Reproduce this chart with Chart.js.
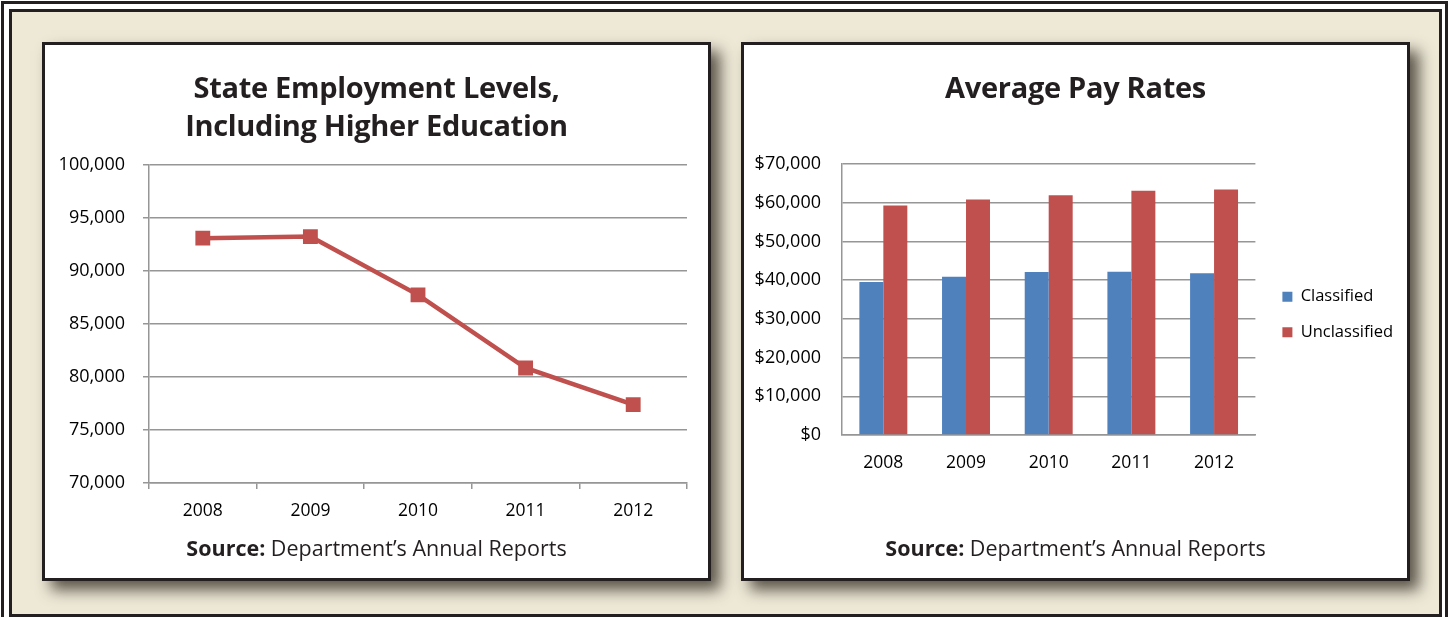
<!DOCTYPE html>
<html>
<head>
<meta charset="utf-8">
<script src="https://cdn.jsdelivr.net/npm/chart.js@4.4.1/dist/chart.umd.min.js"></script>
<style>
  html, body { margin:0; padding:0; }
  body { width:1449px; height:617px; overflow:hidden; background:#ffffff; position:relative; font-family:"Open Sans", sans-serif; }
  #outer { position:absolute; left:1px; top:1px; width:1447px; height:630px; box-sizing:border-box; border:3px solid #231f20; }
  #inner { position:absolute; left:9px; top:9px; width:1433px; height:608px; box-sizing:border-box; border:3px solid #231f20; background:#eee9d7; }
  .panel { position:absolute; top:42px; width:669px; height:539px; box-sizing:border-box; border:3px solid #231f20; background:#ffffff; box-shadow: 9px 9px 14px rgba(40,35,25,0.75); }
  .panel canvas { position:absolute; left:0; top:0; }
  .title { position:absolute; left:0; width:100%; text-align:center; font-weight:700; color:#231f20; font-size:29px; line-height:38px; letter-spacing:-0.3px; }
  .source { position:absolute; left:0; width:100%; text-align:center; color:#231f20; font-size:21.5px; line-height:26px; }
  .source b { font-weight:700; }
</style>
</head>
<body>
<div id="outer"></div>
<div id="inner"></div>
<div class="panel" id="p1" style="left:42px;">
  <canvas id="c1" width="663" height="533"></canvas>
  <div class="title" style="top:23px;">State Employment Levels,<br>Including Higher Education</div>
  <div class="source" style="top:490px;"><b>Source:</b> Department’s Annual Reports</div>
</div>
<div class="panel" id="p2" style="left:741px;">
  <canvas id="c2" width="663" height="533"></canvas>
  <div class="title" style="top:23px;">Average Pay Rates</div>
  <div class="source" style="top:490px;"><b>Source:</b> Department’s Annual Reports</div>
</div>
<script>
// ---- data ----
const years = ['2008', '2009', '2010', '2011', '2012'];
const employmentLevels = [93100, 93250, 87750, 80850, 77400];
const employmentTicks = [70000, 75000, 80000, 85000, 90000, 95000, 100000];
const classifiedPay = [39500, 40900, 42100, 42200, 41800];
const unclassifiedPay = [59300, 60800, 61900, 63100, 63400];
const payTicks = [0, 10000, 20000, 30000, 40000, 50000, 60000, 70000];

// ---- styles ----
const RED = '#c0504d';
const BLUE = '#4f81bd';
const GRID = '#969696';
const FONT = 'Open Sans';

// Left: line chart
new Chart(document.getElementById('c1'), {
  type: 'line',
  data: {
    labels: years,
    datasets: [{
      label: 'State Employment',
      data: employmentLevels,
      borderColor: RED,
      backgroundColor: RED,
      borderWidth: 4.5,
      pointStyle: 'rect',
      pointRadius: 10.5,
      pointBorderWidth: 0,
      pointBackgroundColor: RED,
      tension: 0
    }]
  },
  options: {
    responsive: false,
    animation: false,
    layout: { padding: { left: 0, right: 21, top: 120, bottom: 55 } },
    plugins: { legend: { display: false }, tooltip: { enabled: false } },
    scales: {
      x: {
        offset: true,
        grid: { offset: true, drawOnChartArea: false, drawTicks: true, tickLength: 6, color: GRID, lineWidth: 1.5 },
        border: { color: GRID, width: 1.5 },
        ticks: { color: '#000', font: { family: FONT, size: 17.5 }, padding: 12 },
        afterFit(s) { s.height = 40; }
      },
      y: {
        min: employmentTicks[0],
        max: employmentTicks[employmentTicks.length - 1],
        afterBuildTicks(s) { s.ticks = employmentTicks.map(v => ({ value: v })); },
        ticks: { color: '#000', font: { family: FONT, size: 18 }, padding: 18, callback: v => v.toLocaleString('en-US') },
        grid: { color: GRID, lineWidth: 1.5, tickLength: 6 },
        border: { color: GRID, width: 1.5 },
        afterFit(s) { s.width = 104; }
      }
    }
  }
});

// Right: bar chart
const shiftLegend = {
  id: 'shiftLegend',
  afterLayout(chart) {
    const l = chart.legend;
    if (!l) return;
    const dx = 8, dy = -5;
    l.left += dx; l.right += dx; l.top += dy; l.bottom += dy;
  }
};

new Chart(document.getElementById('c2'), {
  type: 'bar',
  data: {
    labels: years,
    datasets: [
      { label: 'Classified', data: classifiedPay, backgroundColor: BLUE, borderWidth: 0 },
      { label: 'Unclassified', data: unclassifiedPay, backgroundColor: RED, borderWidth: 0 }
    ]
  },
  options: {
    responsive: false,
    animation: false,
    layout: { padding: { left: 0, right: 12, top: 119, bottom: 103 } },
    datasets: { bar: { categoryPercentage: 0.58, barPercentage: 1.0 } },
    plugins: {
      tooltip: { enabled: false },
      legend: {
        position: 'right',
        labels: { boxWidth: 10, boxHeight: 10, padding: 19, color: '#000', font: { family: FONT, size: 16.5 } }
      }
    },
    scales: {
      x: {
        grid: { display: false },
        border: { color: GRID, width: 1.5 },
        ticks: { color: '#000', font: { family: FONT, size: 17.5 }, padding: 10 },
        afterFit(s) { s.height = 40; }
      },
      y: {
        min: payTicks[0],
        max: payTicks[payTicks.length - 1],
        afterBuildTicks(s) { s.ticks = payTicks.map(v => ({ value: v })); },
        ticks: { color: '#000', font: { family: FONT, size: 18 }, padding: 21, callback: v => '$' + v.toLocaleString('en-US') },
        grid: { color: GRID, lineWidth: 1.5, drawTicks: false },
        border: { color: GRID, width: 1.5 },
        afterFit(s) { s.width = 98; }
      }
    }
  },
  plugins: [shiftLegend]
});
</script>
</body>
</html>
